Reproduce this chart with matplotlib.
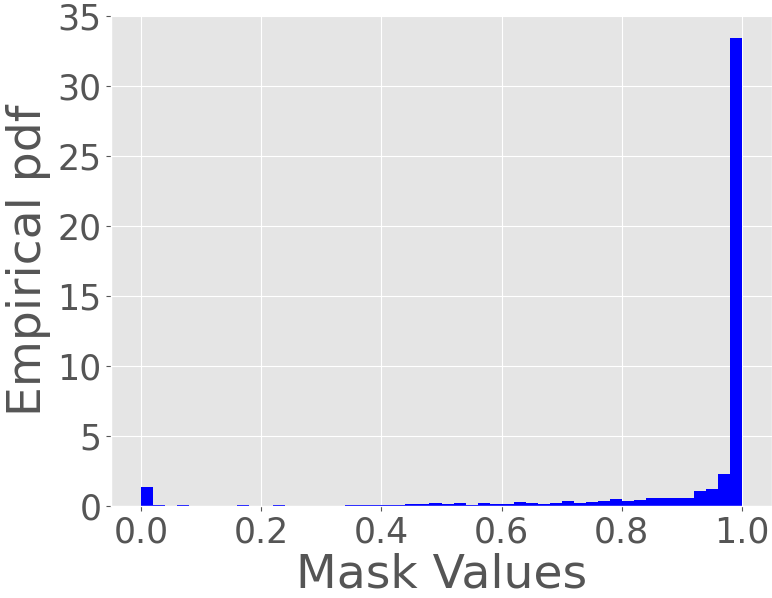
import matplotlib
matplotlib.use("Agg")
import matplotlib.pyplot as plt

# histogram of mask values, 50 bins of width 0.02
bin_width = 0.02
bin_left = [i * bin_width for i in range(50)]
density = [
    1.38, 0.09, 0.03, 0.05, 0.0, 0.0, 0.0, 0.0, 0.05, 0.02,
    0.03, 0.04, 0.03, 0.03, 0.03, 0.03, 0.03, 0.06, 0.04, 0.06,
    0.06, 0.06, 0.16, 0.12, 0.20, 0.14, 0.21, 0.10, 0.21, 0.14,
    0.17, 0.26, 0.24, 0.17, 0.24, 0.38, 0.24, 0.26, 0.37, 0.50,
    0.36, 0.43, 0.55, 0.60, 0.55, 0.55, 1.07, 1.24, 2.31, 33.4,
]
x_ticks = [0.0, 0.2, 0.4, 0.6, 0.8, 1.0]
y_ticks = [0, 5, 10, 15, 20, 25, 30, 35]

plt.style.use("ggplot")

fig = plt.figure(figsize=(7.72, 5.98), dpi=100)
ax = fig.add_axes([111 / 772, 92 / 598, 661 / 772, 491 / 598])

ax.bar(bin_left, density, width=bin_width, align="edge", color="blue")

ax.set_xticks(x_ticks)
ax.set_yticks(y_ticks)
ax.tick_params(labelsize=25, colors="#555555")
ax.set_xlabel("Mask Values", fontsize=34, color="#555555", labelpad=2)
ax.set_ylabel("Empirical pdf", fontsize=34, color="#555555")

fig.savefig("out.png", dpi=100)
